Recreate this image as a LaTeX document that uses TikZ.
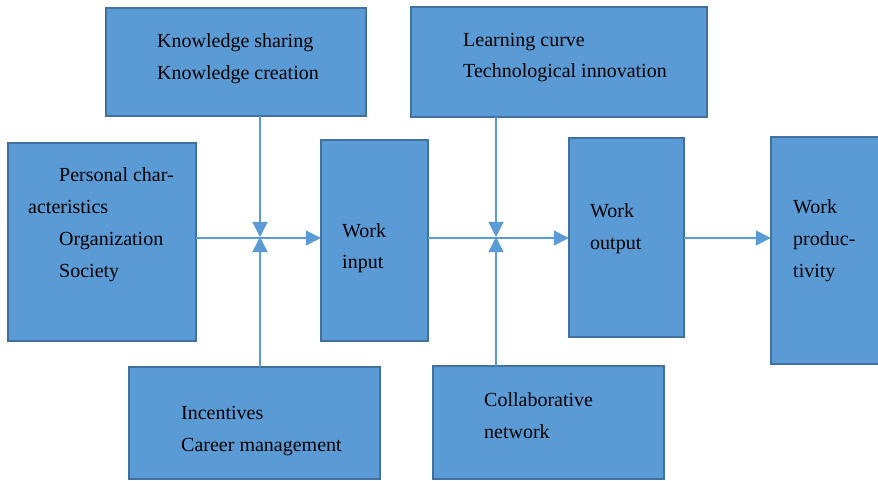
\documentclass[tikz,border=0pt]{standalone}
\usepackage{fontspec}
\setmainfont{Liberation Serif}
\usetikzlibrary{arrows.meta,calc}
\definecolor{boxfill}{HTML}{5B9BD5}
\definecolor{boxedge}{HTML}{41719C}
\definecolor{linkblue}{HTML}{5B9BD5}
\tikzset{
  x=1pt, y=-1pt,
  panel/.style={draw=boxedge, line width=1.8pt, fill=boxfill},
  holder/.style={inner sep=0pt},
  label/.style={anchor=base west, inner sep=0pt, font=\fontsize{20pt}{32pt}\selectfont},
  link/.style={draw=linkblue, line width=1.3pt, -{Triangle[length=15pt,width=15pt]}},
}
\begin{document}
\begin{tikzpicture}
\useasboundingbox (0,0) rectangle (878,481);
% boxes: filled panels, each with a named placeholder node over it
\path[panel] (106,8) rectangle (366,116);
\node[holder, minimum width=260pt, minimum height=108pt] (ks) at (236,62) {};
\path[panel] (411,7) rectangle (707,117);
\node[holder, minimum width=296pt, minimum height=110pt] (lc) at (559,62) {};
\path[panel] (8,143) rectangle (196,341);
\node[holder, minimum width=188pt, minimum height=198pt] (pc) at (102,242) {};
\path[panel] (321,140) rectangle (428,341);
\node[holder, minimum width=107pt, minimum height=201pt] (wi) at (374.5,240.5) {};
\path[panel] (569,138) rectangle (684,337);
\node[holder, minimum width=115pt, minimum height=199pt] (wo) at (626.5,237.5) {};
\path[panel] (771,137) rectangle (884,364);
\node[holder, minimum width=113pt, minimum height=227pt] (wp) at (827.5,250.5) {};
\path[panel] (129,367) rectangle (380,479);
\node[holder, minimum width=251pt, minimum height=112pt] (inc) at (254.5,423) {};
\path[panel] (433,366) rectangle (664,479);
\node[holder, minimum width=231pt, minimum height=113pt] (cn) at (548.5,422.5) {};

% texts
\node[label] (t1) at (157,48) {Knowledge sharing};
\node[label] (t2) at (157,80) {Knowledge creation};
\node[label] (t3) at (463,47) {Learning curve};
\node[label] (t4) at (463,78) {Technological innovation};
\node[label] (t5) at (59,182) {Personal char-};
\node[label] (t6) at (28,214) {acteristics};
\node[label] (t7) at (59,246) {Organization};
\node[label] (t8) at (59,277) {Society};
\node[label] (t9) at (342,237) {Work};
\node[label] (t10) at (342,268) {input};
\node[label] (t11) at (590,218) {Work};
\node[label] (t12) at (590,250) {output};
\node[label] (t13) at (793,214) {Work};
\node[label] (t14) at (793,246) {produc-};
\node[label] (t15) at (793,277) {tivity};
\node[label] (t16) at (181,419) {Incentives};
\node[label] (t17) at (181,451) {Career management};
\node[label] (t18) at (484,406) {Collaborative};
\node[label] (t19) at (484,438) {network};

% junctions on the main flow line
\coordinate (j1) at (260,237);
\coordinate (j2) at (496,237);
\coordinate (h) at (0,238);

% main flow
\draw[link] (pc.east |- h) -- (wi.west |- h);
\draw[link] (wi.east |- h) -- (wo.west |- h);
\draw[link] (wo.east |- h) -- (wp.west |- h);

% influences from above and below
\draw[link] (ks.south -| j1) -- (j1);
\draw[link] (inc.north -| j1) -- (j1);
\draw[link] (lc.south -| j2) -- (j2);
\draw[link] (cn.north -| j2) -- (j2);
\end{tikzpicture}
\end{document}
